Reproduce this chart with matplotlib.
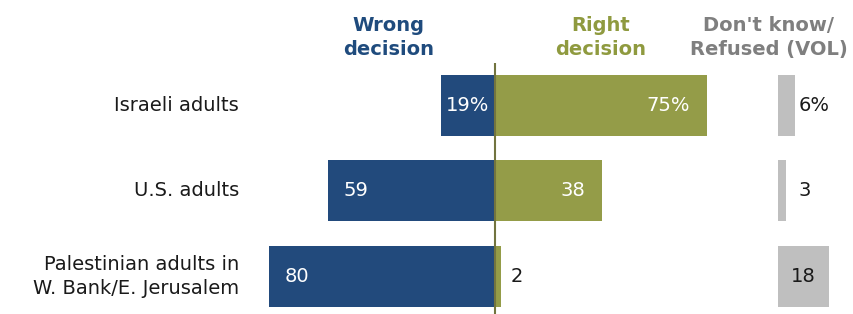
import matplotlib
matplotlib.use("Agg")
import matplotlib.pyplot as plt

categories = ["Israeli adults", "U.S. adults", "Palestinian adults in\nW. Bank/E. Jerusalem"]
wrong = [19, 59, 80]
right = [75, 38, 2]
dont_know = [6, 3, 18]
wrong_labels = ["19%", "59", "80"]
right_labels = ["75%", "38", "2"]
dk_labels = ["6%", "3", "18"]
headers = ["Wrong\ndecision", "Right\ndecision", "Don't know/\nRefused (VOL)"]

NAVY = "#224a7c"
OLIVE = "#949c48"
GRAY = "#bfbfbf"
HNAVY = "#1f4b7d"
HOLIVE = "#8f9a3f"
HGRAY = "#7f7f7f"
LINE = "#72743f"

plt.rcParams['font.family'] = ['DejaVu Sans']

W, H = 8.54, 3.14
fig = plt.figure(figsize=(W, H), dpi=100)
ax = fig.add_axes([0, 0, 1, 1])
ax.set_xlim(-174.9, 126.9)
ax.set_ylim(2.444, -1.237)
ax.axis("off")

px = (126.9 + 174.9) / 854.0  # data units per pixel
DK0 = 100
bh = 0.715
y = list(range(len(categories)))

ax.barh(y, [-w for w in wrong], height=bh, color=NAVY, left=0)
ax.barh(y, right, height=bh, color=OLIVE, left=0)
ax.barh(y, dont_know, height=bh, color=GRAY, left=DK0)
ax.plot([0, 0], [-0.5, 2.444], color=LINE, lw=1.5, solid_capstyle="butt")

fs = 14
for i in y:
    ax.text(-174.9 + 239 * px, i, categories[i], ha="right", va="center",
            fontsize=fs, color="#1a1a1a", linespacing=1.33)
    # wrong
    off = 5 if wrong[i] < 25 else 16
    ax.text(-wrong[i] + off * px, i, wrong_labels[i], ha="left", va="center",
            fontsize=fs, color="white")
    # right
    if right[i] >= 10:
        ax.text(right[i] - 17 * px, i, right_labels[i], ha="right", va="center",
                fontsize=fs, color="white")
    else:
        ax.text(right[i] + 10 * px, i, right_labels[i], ha="left", va="center",
                fontsize=fs, color="#1a1a1a")
    # don't know
    if dont_know[i] >= 10:
        ax.text(DK0 + dont_know[i] / 2, i, dk_labels[i], ha="center", va="center",
                fontsize=fs, color="#1a1a1a")
    else:
        ax.text(DK0 + 7.4, i, dk_labels[i], ha="left", va="center",
                fontsize=fs, color="#1a1a1a")

hx = [-37.5, 37.5, 96.8]
hc = [HNAVY, HOLIVE, HGRAY]
for x, t, c in zip(hx, headers, hc):
    ax.text(x, -0.80, t, ha="center", va="center", fontsize=14,
            fontweight="bold", color=c, linespacing=1.3)

fig.savefig("out.png", dpi=100)
